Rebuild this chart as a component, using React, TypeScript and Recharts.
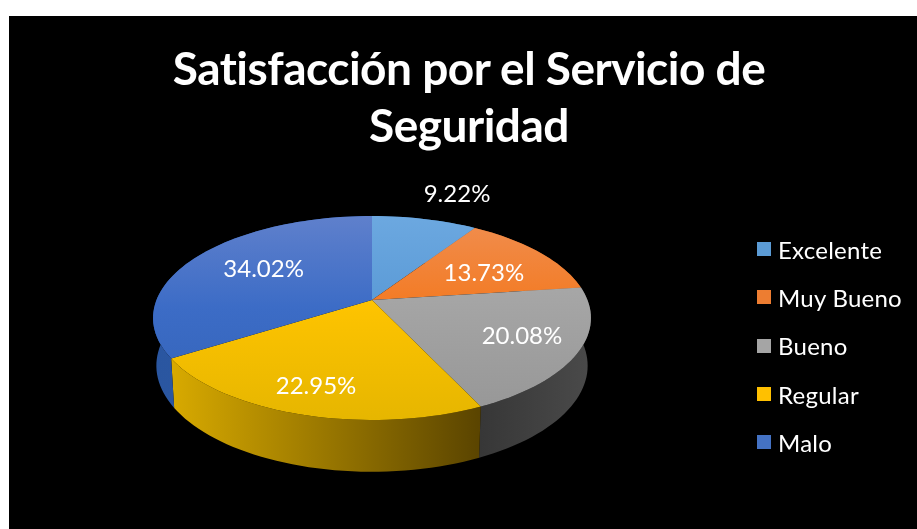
import { Legend, Pie, PieChart } from 'recharts';

const categories = ['Excelente', 'Muy Bueno', 'Bueno', 'Regular', 'Malo'];
const shares = [9.22, 13.73, 20.08, 22.95, 34.02];

const swatches = ['#5b9bd5', '#ed7d31', '#a5a5a5', '#ffc000', '#4472c4'];
// vertical shading of the top face: upper, middle, lower
const topShades = [
  ['#6ca8e0', '#5a9ad6', '#4b8ecb'],
  ['#f08e50', '#f37a22', '#e26a16'],
  ['#b0b0b0', '#a4a4a4', '#969696'],
  ['#ffcb45', '#fdc300', '#e6b600'],
  ['#5f80cc', '#3c6cc6', '#3262b6'],
];
// horizontal shading of the side wall: left, right
const wallShades = [
  ['#3f74a6', '#3f74a6'],
  ['#a8561f', '#a8561f'],
  ['#373737', '#4a4a4a'],
  ['#d8aa00', '#5a4400'],
  ['#2a56a0', '#2f5cab'],
];
const labelNudges = [
  [49, -52],
  [0, 4],
  [20, 2],
  [-12, 15],
  [8, -3],
];

const rows = categories.map((name, i) => ({ name, value: shares[i], fill: swatches[i] }));

const CX = 372;
const CY = 300;
// tilted disc with a little perspective, the near edge comes out bigger
const RX = 215.5;
const RY = 98.8;
const TILT = 0.1765;

const project = (deg: number, r = 1) => {
  const t = (deg * Math.PI) / 180;
  const X = r * Math.sin(t);
  const Y = -r * Math.cos(t);
  const w = 1 - TILT * Y;
  return [CX + (RX * X) / w, CY + (RY * Y) / w];
};

const drop = ([x, y]: number[]) => [CX + (x - CX) * 0.985, CY + 47 + (y - CY) * 1.04];

const arc = (from: number, to: number) => {
  const pts: number[][] = [];
  const n = Math.max(2, Math.ceil((to - from) / 2));
  for (let i = 0; i <= n; i++) pts.push(project(from + ((to - from) * i) / n));
  return pts;
};

const toPath = (pts: number[][]) =>
  'M' + pts.map(p => `${p[0].toFixed(2)},${p[1].toFixed(2)}`).join('L') + 'Z';

const TopFace = (props: any) => {
  const i = categories.indexOf(props.name);
  const from = 90 - props.startAngle;
  const to = 90 - props.endAngle;
  const id = `top-${i}`;
  return (
    <g>
      <defs>
        <linearGradient id={id} gradientUnits="userSpaceOnUse" x1="0" y1="216" x2="0" y2="420">
          <stop offset="0" stopColor={topShades[i][0]} />
          <stop offset="0.45" stopColor={topShades[i][1]} />
          <stop offset="1" stopColor={topShades[i][2]} />
        </linearGradient>
      </defs>
      <path d={toPath([[CX, CY], ...arc(from, to)])} fill={`url(#${id})`} />
    </g>
  );
};

const SideWall = (props: any) => {
  const i = categories.indexOf(props.name);
  const from = 90 - props.startAngle;
  const to = 90 - props.endAngle;
  const edge = arc(from, to);
  const id = `wall-${i}`;
  const xs = edge.map(p => p[0]);
  return (
    <g>
      <defs>
        <linearGradient
          id={id}
          gradientUnits="userSpaceOnUse"
          x1={Math.min(...xs)}
          y1="0"
          x2={Math.max(...xs)}
          y2="0"
        >
          <stop offset="0" stopColor={wallShades[i][0]} />
          <stop offset="1" stopColor={wallShades[i][1]} />
        </linearGradient>
      </defs>
      <path d={toPath([...edge, ...edge.map(drop).reverse()])} fill={`url(#${id})`} />
    </g>
  );
};

const renderLabel = (props: any) => {
  const i = categories.indexOf(props.name);
  const [x, y] = project(90 - props.midAngle, 0.65);
  return (
    <text
      x={x + labelNudges[i][0]}
      y={y + labelNudges[i][1]}
      fill="#fff"
      fontSize={24}
      fontFamily="Lato"
      textAnchor="middle"
      dominantBaseline="central"
    >
      {`${props.value.toFixed(2)}%`}
    </text>
  );
};

// both pies report to the legend, keep one entry per category
const renderLegend = ({ payload }: any) => {
  const seen = new Set<string>();
  const items = (payload || []).filter((item: any) => {
    if (seen.has(item.value)) return false;
    seen.add(item.value);
    return true;
  });
  return (
    <div>
      {items.map((item: any) => (
        <div
          key={item.value}
          style={{ display: 'flex', alignItems: 'center', height: 48.3, color: '#fff', fontFamily: 'Lato', fontSize: 24, letterSpacing: 0.25 }}
        >
          <span style={{ width: 14, height: 14, marginRight: 7, background: item.color }} />
          {item.value}
        </div>
      ))}
    </div>
  );
};

export default function App() {
  return (
    <div style={{ position: 'absolute', left: 0, top: 0, width: 917, height: 529, background: '#fff', overflow: 'hidden' }}>
      <div style={{ position: 'absolute', left: 9, top: 16, width: 908, height: 513, background: '#000' }} />
      <div style={{ position: 'absolute', left: 0, top: 0, filter: 'blur(0.4px)' }}>
        <PieChart width={917} height={529} margin={{ top: 0, right: 0, bottom: 0, left: 0 }}>
          <text x={469} y={85} fill="#fff" fontSize={46} fontWeight={700} letterSpacing={-0.5} fontFamily="Lato" textAnchor="middle">
            Satisfacción por el Servicio de
          </text>
          <text x={469} y={142} fill="#fff" fontSize={46} fontWeight={700} letterSpacing={-0.5} fontFamily="Lato" textAnchor="middle">
            Seguridad
          </text>
          <Pie
            data={rows}
            dataKey="value"
            nameKey="name"
            cx={CX}
            cy={CY}
            outerRadius={100}
            startAngle={90}
            endAngle={-270}
            legendType="none"
            shape={SideWall}
            isAnimationActive={false}
          />
          <Pie
            data={rows}
            dataKey="value"
            nameKey="name"
            cx={CX}
            cy={CY}
            outerRadius={100}
            startAngle={90}
            endAngle={-270}
            shape={TopFace}
            label={renderLabel}
            labelLine={false}
            isAnimationActive={false}
          />
          <Legend
            layout="vertical"
            content={renderLegend}
            itemSorter={null}
            wrapperStyle={{ left: 757, top: 225, width: 160 }}
          />
        </PieChart>
      </div>
    </div>
  );
}
